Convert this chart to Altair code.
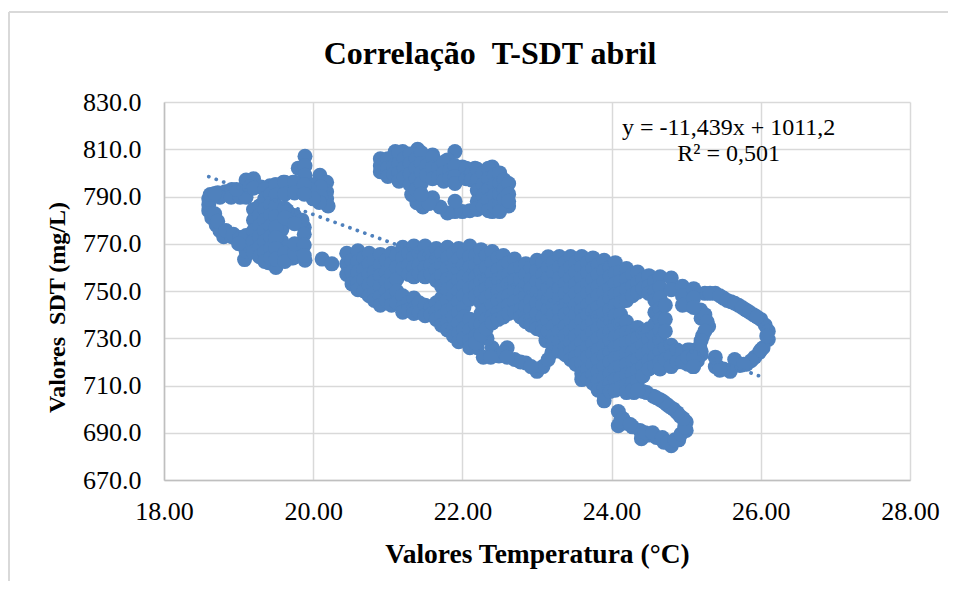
import altair as alt
import pandas as pd

# Blue scatter: (temperature, SDT)
left_outline = [(18.6,784),(18.6,786.5),(18.6,789),(18.62,790.8),(18.72,791.6),(18.82,792),(18.91,793),(19.0,792.5),
    (19.1,797),(19.2,797.5),(19.3,794),(19.49,795),(19.6,796),(19.73,796),(19.8,802),(19.89,807),(19.89,803),(19.89,799),
    (20.09,799),(20.18,796),(20.18,792),(20.18,789),(20.2,786),(20.05,791),(20.0,795),(20.1,794),(20.1,790),(20.08,787.5),
    (18.64,781),(18.7,778),(18.75,775.5),(18.8,773),(18.91,773),(19.0,772),(19.08,770.5),(19.08,763.3),(19.1,767),
    (19.4,762),(19.5,760),(19.73,764),(19.89,763),(18.75,789.7),(18.9,789.7),(19.02,789.7),(19.1,789.7),
    (19.55,785),(19.75,782),(19.88,777),
    (18.68,782.7),(18.72,779.5),(18.83,775.6),(18.93,774),(19.02,772.6),(19.1,773.5),(19.15,769),(19.0,770),(19.7,764),
    (18.68,791.3),(18.97,793),(19.15,794),(19.42,794.5),(19.82,795),(19.95,793),(20.0,789),
    (19.58,776),(19.58,771),(19.7,780),(19.85,780),(19.7,767),(19.62,768.5),(19.65,784)]
left_columns = {
    19.2: [793.5,784.5,780,775.5,771,766.5],
    19.28: [786,782,777.5,773,768.5,764.5],
    19.35: [793,789,784.5,780,775.5,771,766.5,762.5],
    19.43: [791,786.5,782,777.5,773,768,764],
    19.5: [795,790.5,786,781.5,777,772.5,768,763.5],
    19.62: [796,791,785,781,766,762.5],
    19.75: [796,791.5,778.5,766,770],
    19.88: [795,791,774,769.5,765],
}
gap_points = [(20.12,763.5),(20.25,761.5)]

top_outline = [(20.9,806),(20.9,803),(20.9,800.5),(21.1,809),(21.2,809),(21.4,810),(21.6,807.6),(21.9,809),(21.8,805.5),
    (22.0,802.5),(22.17,802),(22.4,802.5),(22.6,795),(22.62,786),(22.4,783.6),(22.2,784.5),(22.0,783.6),(21.9,783.6),
    (21.9,788),(21.8,783),(21.7,785.6),(21.6,789.5),(21.47,785.6),(21.39,787.4),(21.32,790.8),(22.1,784),(21.55,787)]
top_columns = {
    21.0: [806,802,798.5],
    21.08: [803,799.5],
    21.15: [808.5,804,800,796.5],
    21.22: [806,802,798],
    21.3: [808,804,799.5,795],
    21.38: [806,802,797.5,793],
    21.45: [808.5,804,800,795.5,791],
    21.52: [803,799],
    21.6: [806.5,802,797.5],
    21.68: [802,798],
    21.75: [804.5,800,796.5],
    21.83: [801,797.5],
    21.9: [803,798.5,795.5],
    22.05: [802,797.5],
    22.12: [799.5,797],
    22.2: [801.5,797,792.5,788,785],
    22.28: [800,795,790.5,786],
    22.35: [802,797.5,793,788.5,784],
    22.43: [799,795,790.5,786],
    22.5: [800,795.5,791,786.5,783.6],
    22.56: [797,793,789],
    22.62: [795.5,791,788],
}

main_columns = {
    20.45: [766,761.5,757],
    20.52: [763,758,753],
    20.6: [767,762.5,758,753.5,750.5],
    20.68: [764,759,755,750],
    20.75: [766,761.5,757,752.5,748],
    20.82: [763,758,754,749,746],
    20.9: [765.5,761,756.5,752,747.5,744],
    20.98: [763,758,754,750,746],
    21.05: [766,761.5,757,752.5,748,744],
    21.12: [765,760,755,750,745],
    21.2: [768.5,764,759.5,748,743,741],
    21.28: [766,761,757,745,742],
    21.35: [769,764.5,760,756,747,742.5,740.5],
    21.42: [766,761,757.5,745,741],
    21.5: [769,764.5,760,756,744,739.5],
    21.58: [766,761,757,743,740],
    21.65: [768,763.5,759,754.5,745,741,738],
    21.72: [766,761,756.5,752,747,743,739,735.5],
    21.8: [768.5,764,759.5,755,750.5,746,741.5,737,733.5],
    21.88: [766,761,756,752,748,743,739,734,731],
    21.95: [768,763.5,759,754.5,750,745.5,741,736.5,732,728.5],
    22.02: [766,761,756,752,748,743,739,734,730],
    22.1: [769,764.5,760,755.5,751,746.5,738,733.5,729,726],
    22.18: [765,761,756,752,748,736,731,728],
    22.25: [767.5,763,758.5,754,749.5,745,740.5,736,731.5],
    22.32: [765,760,755,751,747,742,738,734],
    22.4: [766.7,762,757.5,753,748.5,744,739.5,736.5],
    22.48: [764,759,755,750,746,741,738],
    22.55: [765,760.5,756,751.5,747,742.5,739],
    22.62: [762,757,753,748,744,740.5],
    22.7: [763.5,759,754.5,750,745.5,741],
    22.78: [760,755,750,746,742,739],
    22.85: [761.5,757,752.5,748,743.5,739,737],
    22.92: [760,755,751,746,742,738,735.5],
    23.0: [763,758.5,754,749.5,745,740.5,736,734],
    23.08: [762,757,753,748,744,739,735,733],
    23.15: [764.5,760,755.5,751,746.5,742,737.5,733],
    23.22: [762,758,753,749,744,740,735,731,728],
    23.3: [764.6,760,755.5,751,746.5,742,737.5,733,728.5,724.5],
    23.38: [762,758,753,749,744,740,735,731,726,723],
    23.45: [764.6,760,755.5,751,746.5,742,737.5,733,728.5,724,721],
    23.52: [762,758,753,749,744,740,735,731,726,722,719],
    23.6: [764.6,760,755.5,751,746.5,742,737.5,733,728.5,724,719.5,715,712.5],
    23.68: [762,758,753,749,744,740,735,731,726,722,717,713],
    23.75: [764,759.5,755,750.5,746,741.5,737,732.5,728,723.5,719,714.5,711],
    23.82: [761,757,752,748,743,739,734,730,725,721,716,712,708],
    23.9: [763,758.5,754,749.5,745,740.5,736,731.5,727,722.5,718,713.5,709,706,703.5],
    23.98: [760,756,751,747,742,738,733,729,724,720,715,711,707.5],
    24.05: [762,757.5,753,748.5,744,739.5,735,730.5,726,721.5,717,712.5,708],
    24.12: [758,754,749,745,740,736,731,727,722,718,713,709],
    24.2: [759.5,755,750.5,746,737,732.5,728,723.5,719,714.5,710,707],
    24.28: [757,752,748,733,729,724,720,715,711,708],
    24.35: [758,753.5,749.5,734.5,730,725.5,721,716.5,712,708],
    24.42: [755,751,732,727,723,718,714],
    24.5: [756.5,752,749,734,729.5,725,720.5,717],
    24.58: [754,750,746,741,736,731,727,722,718],
    24.65: [756,751.5,747,742.5,738,733.5,729,724.5,720,717],
    24.72: [744,738,733,726,721],
    24.8: [755.5,750.5,727,722.5,718],
    24.88: [725,720],
    24.95: [752,748,744,724,720],
    25.02: [722],
    25.1: [751,747,743,722,718],
}
main_outline = [(22.2,726),(22.28,722),(22.4,726),(22.49,722.5),(22.6,726),(22.7,721),(22.85,719.5),(23.0,716),(23.08,718),
    (23.2,724),(23.12,729),(22.33,730),(23.58,718),(22.78,720),(22.92,718),(23.15,721),(22.55,724),(22.38,722),(22.6,722),
    (24.09,699),(24.09,693),(24.2,694),(24.38,691),(24.4,687.5),(24.6,688),(24.7,686),(24.8,684.5),(24.9,687),(25.0,691),(25.0,694.5),
    (24.92,697),(24.83,700),(24.74,702),(24.65,704),(24.47,707),(24.56,705.5),(24.3,707),(24.15,696),(24.28,692.5),(24.5,689),
    (24.12,695),(24.25,693.5),(24.45,690),(24.55,690),(24.68,688),(24.75,686),(24.85,687),(24.93,689.5),(24.98,692.5),
    (24.96,696),(24.88,698.5),(24.78,701),(24.7,703),(24.6,704.8),(24.42,707.5),
    (25.25,749),(25.39,749),(25.5,747),(25.6,745.5),(25.7,744),(25.8,742),(25.9,740),(26.0,738),(26.06,735.5),(26.1,733),(26.1,729.5),
    (26.03,726),(25.98,724),(25.92,722),(25.81,719),(25.72,718.5),(25.65,721),(25.59,716),(25.5,717),(25.39,718),(25.39,722),
    (25.19,742),(25.3,735),(25.2,738.5),(25.22,731),(25.18,726.5),(25.2,723),(25.09,718),(25.05,725),(25.02,725),
    (25.32,749),(25.45,748),(25.55,746),(25.65,744.8),(25.75,743),(25.85,741),(25.95,739),(26.08,731),(26.0,725),(25.87,720.5),
    (25.77,719),(25.45,716.5),(25.25,740),(25.28,737),(25.25,733),(25.2,729),(25.2,724.5),(25.15,720.5),(25.05,744),(25.02,719)]

trend_x = [18.6, 26.0]
trend_y = [798.4, 713.8]
x_ticks = [18, 20, 22, 24, 26, 28]
y_ticks = [670, 690, 710, 730, 750, 770, 790, 810, 830]
eq_x = [25.57, 25.57]
eq_y = [819, 808]
eq_text = ["y = -11,439x + 1011,2", "R² = 0,501"]
title_text = "Correlação\u00a0\u00a0T-SDT abril"

BLUE = "#4F81BD"
FONT = "Liberation Serif"
W, H = 746, 378

pts = list(left_outline) + list(gap_points) + list(top_outline) + list(main_outline)
for cols in (left_columns, top_columns, main_columns):
    for cx, ys in cols.items():
        pts += [(cx, v) for v in ys]
df = pd.DataFrame(pts, columns=["t", "sdt"])

xs = alt.Scale(domain=[18, 28], nice=False, zero=False)
ys = alt.Scale(domain=[670, 830], nice=False, zero=False)
xax = alt.Axis(values=x_ticks, format=".2f", grid=True, gridColor="#D9D9D9", gridWidth=1.5,
               domainColor="#BFBFBF", domainWidth=1.5, ticks=False, labelFont=FONT, labelFontSize=26,
               labelColor="black", labelPadding=18, labelFlush=False, title="Valores Temperatura (°C)", titleFont=FONT,
               titleFontSize=27.5, titleFontWeight="bold", titleColor="black", titleY=60, titleX=373)
yax = alt.Axis(values=y_ticks, format=".1f", grid=True, gridColor="#D9D9D9", gridWidth=1.5,
               domainColor="#BFBFBF", domainWidth=1.5, ticks=False, labelFont=FONT, labelFontSize=26,
               labelColor="black", labelPadding=23, labelFlush=False, title="Valores\u00a0\u00a0SDT (mg/L)", titleFont=FONT,
               titleFontSize=24, titleFontWeight="bold", titleColor="black", titleX=-95, titleY=205)

points = alt.Chart(df).mark_circle(size=225, color=BLUE, opacity=1).encode(
    x=alt.X("t:Q", scale=xs, axis=xax), y=alt.Y("sdt:Q", scale=ys, axis=yax))
trend = alt.Chart(pd.DataFrame({"t": trend_x, "sdt": trend_y})).mark_line(
    color=BLUE, strokeWidth=3.7, strokeDash=[0.1, 7.8], strokeCap="round").encode(
    x=alt.X("t:Q", scale=xs), y=alt.Y("sdt:Q", scale=ys))
eq = alt.Chart(pd.DataFrame({"t": eq_x, "sdt": eq_y, "s": eq_text})).mark_text(
    font=FONT, fontSize=24, color="black").encode(
    x=alt.X("t:Q", scale=xs), y=alt.Y("sdt:Q", scale=ys), text="s:N")
title = alt.Chart(pd.DataFrame({"s": [title_text]})).mark_text(
    font=FONT, fontSize=32, fontWeight="bold", color="black").encode(
    x=alt.value(326), y=alt.value(-48), text="s:N")
frame_left = alt.Chart(pd.DataFrame({"a": [0]})).mark_rule(color="#D9D9D9", strokeWidth=2).encode(
    x=alt.value(-155), y=alt.value(-90), y2=alt.value(H + 101))
frame_top = alt.Chart(pd.DataFrame({"a": [0]})).mark_rule(color="#D9D9D9", strokeWidth=2).encode(
    y=alt.value(-90), x=alt.value(-155), x2=alt.value(W + 38))

chart = alt.layer(frame_left, frame_top, points, trend, eq, title).properties(
    width=W, height=H,
    padding={"left": 156, "top": 94, "right": 38, "bottom": 101},
    autosize=alt.AutoSizeParams(type="none"),
).configure_view(stroke=None)
chart.save("out.html", embed_options={"renderer": "svg", "actions": False})
